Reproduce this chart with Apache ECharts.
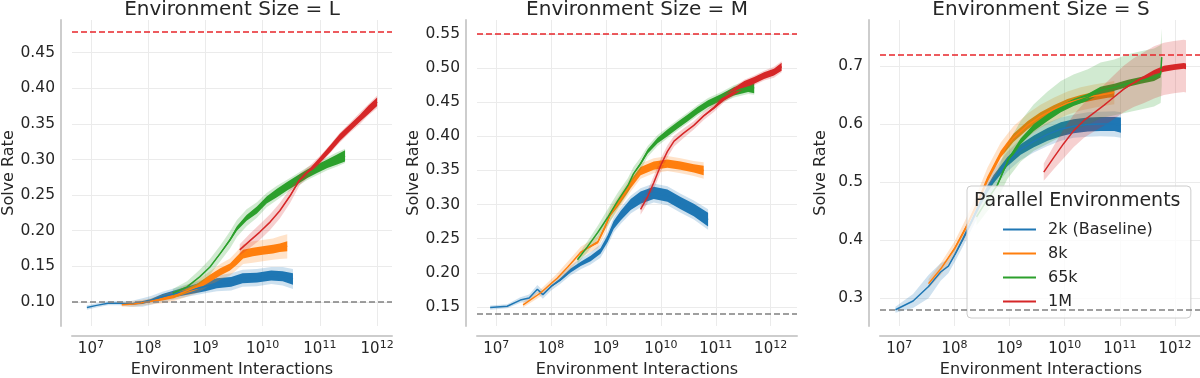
<!DOCTYPE html>
<html><head><meta charset="utf-8">
<script src="https://cdn.jsdelivr.net/npm/echarts@6/dist/echarts.min.js"></script>
<style>html,body{margin:0;padding:0;background:#fff}#c{width:1200px;height:378px}</style>
</head><body><div id="c"></div>
<script>
// ---------- DATA (x = log10 of environment interactions) ----------
const seriesNames = ['2k (Baseline)', '8k', '65k', '1M'];
const panelTitles = ['Environment Size = L', 'Environment Size = M', 'Environment Size = S'];
const xTickExps = [7, 8, 9, 10, 11, 12];
const yTicksL = [0.10, 0.15, 0.20, 0.25, 0.30, 0.35, 0.40, 0.45];
const yTicksM = [0.15, 0.20, 0.25, 0.30, 0.35, 0.40, 0.45, 0.50, 0.55];
const yTicksS = [0.3, 0.4, 0.5, 0.6, 0.7];
const upperRef = [0.477, 0.55, 0.724];   // red dashed
const lowerRef = [0.097, 0.143, 0.279];  // gray dashed

// Panel L
const L_2k_x = [6.93, 7.1, 7.3, 7.5, 7.7, 7.9, 8.05, 8.25, 8.5, 8.75, 9.0, 9.2, 9.45, 9.65, 9.9, 10.15, 10.35, 10.53];
const L_2k_m = [0.092, 0.095, 0.098, 0.098, 0.097, 0.099, 0.102, 0.107, 0.112, 0.117, 0.122, 0.126, 0.128, 0.133, 0.134, 0.137, 0.136, 0.132];
const L_2k_n = [0, 0, 0, 0, 0.001, 0.002, 0.002, 0.004, 0.005, 0.006, 0.007, 0.007, 0.007, 0.007, 0.007, 0.007, 0.007, 0.008];
const L_2k_b = [0.003, 0.003, 0.003, 0.003, 0.004, 0.006, 0.006, 0.007, 0.008, 0.009, 0.010, 0.011, 0.012, 0.012, 0.012, 0.012, 0.013, 0.014];

const L_8k_x = [7.54, 7.75, 8.0, 8.25, 8.45, 8.6, 8.85, 9.08, 9.26, 9.43, 9.55, 9.66, 9.83, 10.0, 10.18, 10.3, 10.43];
const L_8k_m = [0.096, 0.097, 0.100, 0.104, 0.108, 0.113, 0.121, 0.133, 0.142, 0.149, 0.158, 0.167, 0.170, 0.172, 0.174, 0.176, 0.178];
const L_8k_n = [0, 0, 0.001, 0.002, 0.003, 0.003, 0.004, 0.005, 0.005, 0.005, 0.006, 0.006, 0.006, 0.006, 0.006, 0.006, 0.007];
const L_8k_b = [0.003, 0.004, 0.004, 0.006, 0.007, 0.008, 0.009, 0.010, 0.011, 0.012, 0.013, 0.014, 0.015, 0.015, 0.015, 0.016, 0.017];

const L_65k_x = [8.43, 8.68, 8.9, 9.08, 9.26, 9.43, 9.55, 9.72, 9.9, 10.07, 10.25, 10.42, 10.6, 10.78, 10.95, 11.13, 11.3, 11.44];
const L_65k_m = [0.112, 0.121, 0.135, 0.149, 0.168, 0.187, 0.203, 0.218, 0.229, 0.243, 0.253, 0.262, 0.271, 0.280, 0.287, 0.294, 0.300, 0.305];
const L_65k_n = [0, 0, 0, 0, 0.001, 0.002, 0.003, 0.004, 0.005, 0.005, 0.006, 0.006, 0.006, 0.006, 0.006, 0.006, 0.007, 0.008];
const L_65k_b = [0.006, 0.008, 0.010, 0.011, 0.011, 0.012, 0.012, 0.012, 0.011, 0.010, 0.010, 0.009, 0.009, 0.009, 0.009, 0.009, 0.010, 0.010];

const L_1M_x = [9.6, 9.78, 9.95, 10.13, 10.3, 10.48, 10.65, 10.83, 11.0, 11.18, 11.35, 11.53, 11.7, 11.85, 12.0];
const L_1M_m = [0.173, 0.186, 0.198, 0.212, 0.228, 0.249, 0.272, 0.285, 0.299, 0.315, 0.331, 0.345, 0.358, 0.370, 0.381];
const L_1M_n = [0, 0, 0, 0, 0, 0.001, 0.002, 0.003, 0.004, 0.005, 0.005, 0.005, 0.005, 0.006, 0.006];
const L_1M_b = [0.008, 0.010, 0.011, 0.011, 0.011, 0.010, 0.008, 0.007, 0.006, 0.006, 0.007, 0.007, 0.008, 0.008, 0.009];

// Panel M
const M_2k_x = [6.89, 7.2, 7.44, 7.6, 7.75, 7.85, 8.0, 8.17, 8.35, 8.54, 8.72, 8.9, 9.03, 9.14, 9.27, 9.45, 9.63, 9.87, 10.12, 10.36, 10.6, 10.86];
const M_2k_m = [0.149, 0.151, 0.160, 0.163, 0.176, 0.168, 0.180, 0.190, 0.203, 0.213, 0.221, 0.232, 0.250, 0.270, 0.284, 0.300, 0.310, 0.317, 0.313, 0.302, 0.292, 0.278];
const M_2k_n = [0, 0, 0, 0, 0, 0, 0.001, 0.002, 0.003, 0.003, 0.004, 0.004, 0.005, 0.006, 0.007, 0.008, 0.009, 0.009, 0.009, 0.009, 0.009, 0.010];
const M_2k_b = [0.003, 0.003, 0.004, 0.005, 0.006, 0.006, 0.006, 0.006, 0.007, 0.008, 0.009, 0.010, 0.010, 0.011, 0.012, 0.013, 0.014, 0.014, 0.014, 0.014, 0.014, 0.015];

const M_8k_x = [7.49, 7.8, 8.11, 8.3, 8.41, 8.54, 8.66, 8.85, 8.97, 9.08, 9.21, 9.34, 9.45, 9.63, 9.87, 10.12, 10.36, 10.6, 10.78];
const M_8k_m = [0.153, 0.170, 0.192, 0.208, 0.218, 0.230, 0.236, 0.245, 0.265, 0.286, 0.300, 0.316, 0.330, 0.349, 0.357, 0.360, 0.357, 0.353, 0.350];
const M_8k_n = [0, 0, 0, 0, 0, 0.001, 0.001, 0.002, 0.003, 0.003, 0.004, 0.005, 0.006, 0.006, 0.006, 0.006, 0.006, 0.006, 0.007];
const M_8k_b = [0.004, 0.005, 0.007, 0.008, 0.008, 0.008, 0.008, 0.009, 0.010, 0.010, 0.010, 0.010, 0.011, 0.011, 0.011, 0.011, 0.011, 0.011, 0.012];

const M_65k_x = [8.48, 8.66, 8.85, 9.03, 9.21, 9.4, 9.5, 9.63, 9.76, 9.94, 10.12, 10.3, 10.49, 10.67, 10.86, 11.1, 11.33, 11.59, 11.7];
const M_65k_m = [0.219, 0.238, 0.259, 0.281, 0.305, 0.328, 0.345, 0.360, 0.378, 0.394, 0.405, 0.416, 0.427, 0.438, 0.448, 0.457, 0.466, 0.472, 0.471];
const M_65k_n = [0, 0, 0, 0, 0, 0, 0.001, 0.002, 0.003, 0.004, 0.005, 0.005, 0.005, 0.005, 0.005, 0.005, 0.006, 0.007, 0.008];
const M_65k_b = [0.006, 0.008, 0.010, 0.012, 0.012, 0.011, 0.010, 0.009, 0.008, 0.008, 0.008, 0.008, 0.008, 0.008, 0.008, 0.008, 0.009, 0.010, 0.010];

const M_1M_x = [9.63, 9.75, 9.87, 10.0, 10.12, 10.24, 10.42, 10.6, 10.78, 10.97, 11.15, 11.33, 11.52, 11.7, 11.88, 12.06, 12.2];
const M_1M_m = [0.293, 0.310, 0.332, 0.358, 0.378, 0.393, 0.405, 0.416, 0.430, 0.442, 0.456, 0.466, 0.476, 0.482, 0.489, 0.494, 0.502];
const M_1M_n = [0, 0, 0, 0, 0, 0, 0, 0, 0.001, 0.002, 0.004, 0.005, 0.005, 0.005, 0.005, 0.005, 0.006];
const M_1M_b = [0.008, 0.009, 0.010, 0.010, 0.009, 0.008, 0.007, 0.006, 0.006, 0.006, 0.006, 0.007, 0.007, 0.007, 0.007, 0.008, 0.008];

// Panel S
const S_2k_x = [6.93, 7.25, 7.53, 7.75, 7.89, 8.02, 8.16, 8.3, 8.45, 8.6, 8.71, 8.96, 9.2, 9.44, 9.69, 9.93, 10.16, 10.42, 10.65, 10.9, 11.02];
const S_2k_m = [0.280, 0.295, 0.320, 0.345, 0.355, 0.377, 0.403, 0.430, 0.460, 0.488, 0.505, 0.535, 0.556, 0.570, 0.582, 0.591, 0.596, 0.599, 0.600, 0.600, 0.598];
const S_2k_n = [0, 0, 0, 0, 0, 0.002, 0.003, 0.004, 0.005, 0.006, 0.007, 0.008, 0.009, 0.010, 0.011, 0.012, 0.012, 0.012, 0.012, 0.012, 0.013];
const S_2k_b = [0.005, 0.012, 0.020, 0.015, 0.012, 0.012, 0.013, 0.014, 0.015, 0.016, 0.016, 0.017, 0.018, 0.019, 0.020, 0.020, 0.020, 0.021, 0.021, 0.022, 0.022];

const S_8k_x = [7.53, 7.75, 8.0, 8.2, 8.4, 8.6, 8.84, 9.07, 9.33, 9.56, 9.8, 10.05, 10.29, 10.53, 10.78, 10.9];
const S_8k_m = [0.325, 0.350, 0.385, 0.420, 0.460, 0.505, 0.548, 0.576, 0.598, 0.613, 0.625, 0.636, 0.643, 0.648, 0.652, 0.654];
const S_8k_n = [0, 0, 0.002, 0.003, 0.004, 0.005, 0.006, 0.007, 0.007, 0.007, 0.007, 0.007, 0.007, 0.007, 0.007, 0.008];
const S_8k_b = [0.008, 0.010, 0.012, 0.015, 0.018, 0.020, 0.020, 0.020, 0.020, 0.020, 0.020, 0.020, 0.020, 0.020, 0.020, 0.020];

const S_65k_x = [8.4, 8.6, 8.78, 8.96, 9.2, 9.44, 9.69, 9.93, 10.16, 10.42, 10.65, 10.9, 11.15, 11.38, 11.62, 11.74, 11.76];
const S_65k_m = [0.440, 0.470, 0.495, 0.535, 0.570, 0.594, 0.611, 0.626, 0.637, 0.646, 0.658, 0.663, 0.670, 0.675, 0.680, 0.686, 0.715];
const S_65k_n = [0, 0, 0.002, 0.004, 0.005, 0.006, 0.006, 0.006, 0.006, 0.006, 0.006, 0.006, 0.006, 0.006, 0.006, 0.006, 0];
const S_65k_b = [0.015, 0.020, 0.025, 0.030, 0.035, 0.040, 0.045, 0.048, 0.048, 0.048, 0.048, 0.048, 0.050, 0.050, 0.050, 0.050, 0.050];

const S_1M_x = [9.62, 9.8, 9.98, 10.16, 10.35, 10.53, 10.71, 10.89, 11.07, 11.25, 11.44, 11.62, 11.8, 11.98, 12.16, 12.2];
const S_1M_m = [0.517, 0.542, 0.566, 0.588, 0.606, 0.619, 0.632, 0.646, 0.660, 0.671, 0.680, 0.689, 0.695, 0.698, 0.700, 0.699];
const S_1M_n = [0, 0, 0, 0, 0, 0, 0, 0, 0.001, 0.002, 0.003, 0.004, 0.005, 0.005, 0.005, 0.005];
const S_1M_b = [0.015, 0.020, 0.025, 0.028, 0.030, 0.032, 0.035, 0.038, 0.040, 0.042, 0.044, 0.045, 0.045, 0.045, 0.045, 0.045];

// ---------- LAYOUT / STYLE ----------
const colors = ['#1f77b4', '#ff7f0e', '#2ca02c', '#d62728'];
const bandColors = ['rgba(31,119,180,0.22)', 'rgba(255,127,14,0.22)', 'rgba(44,160,44,0.22)', 'rgba(214,39,40,0.22)'];
const panels = [
  {left: 72, width: 320, xMin: 6.67, xMax: 12.26, yMin: 0.066, yMax: 0.496, yTicks: yTicksL, dec: 2, nameGap: 44,
   data: [[L_2k_x, L_2k_m, L_2k_n, L_2k_b], [L_8k_x, L_8k_m, L_8k_n, L_8k_b], [L_65k_x, L_65k_m, L_65k_n, L_65k_b], [L_1M_x, L_1M_m, L_1M_n, L_1M_b]]},
  {left: 477, width: 320, xMin: 6.65, xMax: 12.48, yMin: 0.122, yMax: 0.5705, yTicks: yTicksM, dec: 2, nameGap: 44,
   data: [[M_2k_x, M_2k_m, M_2k_n, M_2k_b], [M_8k_x, M_8k_m, M_8k_n, M_8k_b], [M_65k_x, M_65k_m, M_65k_n, M_65k_b], [M_1M_x, M_1M_m, M_1M_n, M_1M_b]]},
  {left: 880, width: 322, xMin: 6.65, xMax: 12.49, yMin: 0.252, yMax: 0.779, yTicks: yTicksS, dec: 1, nameGap: 40,
   data: [[S_2k_x, S_2k_m, S_2k_n, S_2k_b], [S_8k_x, S_8k_m, S_8k_n, S_8k_b], [S_65k_x, S_65k_m, S_65k_n, S_65k_b], [S_1M_x, S_1M_m, S_1M_n, S_1M_b]]}
];
const FONT = 'DejaVu Sans';
const txt = '#262626';
const spine = '#cdcdcd';
const gridCol = '#ebebeb';

function polySeries(pi, xs, lo, hi, fill, name) {
  return {
    type: 'custom', name: name, xAxisIndex: pi, yAxisIndex: pi, silent: true, clip: true,
    data: [[xs[0], lo[0]]],
    renderItem: function (params, api) {
      const pts = [];
      for (let i = 0; i < xs.length; i++) pts.push(api.coord([xs[i], hi[i]]));
      for (let i = xs.length - 1; i >= 0; i--) pts.push(api.coord([xs[i], lo[i]]));
      return {type: 'polygon', shape: {points: pts}, style: {fill: fill, stroke: null}};
    }
  };
}

const grids = [], xAxes = [], yAxes = [], series = [], titles = [];
panels.forEach(function (p, pi) {
  grids.push({left: p.left, width: p.width, top: 20, bottom: 52, containLabel: false, outerBoundsMode: 'none'});
  titles.push({text: panelTitles[pi], left: p.left + p.width / 2, top: 0, textAlign: 'center', padding: 0,
    textStyle: {fontFamily: FONT, fontSize: 20, fontWeight: 'normal', color: txt}});
  xAxes.push({
    type: 'value', gridIndex: pi, min: p.xMin, max: p.xMax, offset: 10,
    name: 'Environment Interactions', nameLocation: 'middle', nameGap: 23,
    nameTextStyle: {fontFamily: FONT, fontSize: 16, color: txt},
    axisLine: {show: true, onZero: false, lineStyle: {color: spine, width: 2}},
    axisTick: {show: false, customValues: xTickExps},
    axisLabel: {customValues: xTickExps, margin: 4, fontFamily: FONT, color: txt,
      formatter: function (v) { return '{b|10}{s|' + Math.round(v) + '}'; },
      rich: {b: {fontFamily: FONT, fontSize: 15, color: txt, verticalAlign: 'bottom', padding: [2, 0, 0, 0]},
             s: {fontFamily: FONT, fontSize: 11, color: txt, verticalAlign: 'top'}}},
    splitLine: {show: true, lineStyle: {color: gridCol, width: 1}}
  });
  yAxes.push({
    type: 'value', gridIndex: pi, min: p.yMin, max: p.yMax, offset: 11,
    name: 'Solve Rate', nameLocation: 'middle', nameGap: p.nameGap, nameRotate: 90,
    nameTextStyle: {fontFamily: FONT, fontSize: 16, color: txt},
    axisLine: {show: true, lineStyle: {color: spine, width: 2}},
    axisTick: {show: false, customValues: p.yTicks},
    axisLabel: {customValues: p.yTicks, margin: 6, fontFamily: FONT, fontSize: 15.5, color: txt,
      formatter: function (v) { return v.toFixed(p.dec); }},
    splitLine: {show: true, lineStyle: {color: gridCol, width: 1}}
  });
  p.data.forEach(function (d, si) {
    const xs = d[0], m = d[1], n = d[2], b = d[3];
    series.push(polySeries(pi, xs, m.map((v, i) => v - b[i]), m.map((v, i) => v + b[i]), bandColors[si], 'band' + pi + si));
    series.push(polySeries(pi, xs, m.map((v, i) => v - n[i]), m.map((v, i) => v + n[i]), colors[si], 'noise' + pi + si));
    series.push({
      type: 'line', name: seriesNames[si], xAxisIndex: pi, yAxisIndex: pi,
      data: xs.map((x, i) => [x, m[i]]), showSymbol: false, symbol: 'none', smooth: false,
      lineStyle: {color: colors[si], width: 1.5}, itemStyle: {color: colors[si]}, silent: true
    });
  });
  series.push({
    type: 'line', name: 'refs' + pi, xAxisIndex: pi, yAxisIndex: pi, data: [], silent: true,
    markLine: {silent: true, symbol: 'none', label: {show: false},
      data: [{yAxis: upperRef[pi], lineStyle: {color: '#e8262b', type: [6, 3], width: 1.6}},
             {yAxis: lowerRef[pi], lineStyle: {color: '#808080', type: [6, 3], width: 1.6}}]}
  });
});

const chart = echarts.init(document.getElementById('c'), null, {renderer: 'canvas'});
chart.setOption({
  animation: false,
  backgroundColor: '#ffffff',
  title: titles,
  grid: grids, xAxis: xAxes, yAxis: yAxes, series: series,
  legend: {
    data: seriesNames.map((nm, i) => ({name: nm, icon: 'rect', itemStyle: {color: colors[i]}})),
    orient: 'vertical', left: 967, top: 186,
    padding: [34, 38, 7, 36], itemGap: 5, itemWidth: 33, itemHeight: 2,
    backgroundColor: 'rgba(255,255,255,0.8)', borderColor: '#cccccc', borderWidth: 1, borderRadius: 4,
    textStyle: {fontFamily: FONT, fontSize: 16, color: txt, lineHeight: 19, padding: [0, 0, 0, 7]},
    selectedMode: false
  },
  graphic: [{type: 'text', left: 974, top: 192, z: 100,
    style: {text: 'Parallel Environments', fontFamily: FONT, fontSize: 19, fill: txt}}]
});
</script></body></html>
